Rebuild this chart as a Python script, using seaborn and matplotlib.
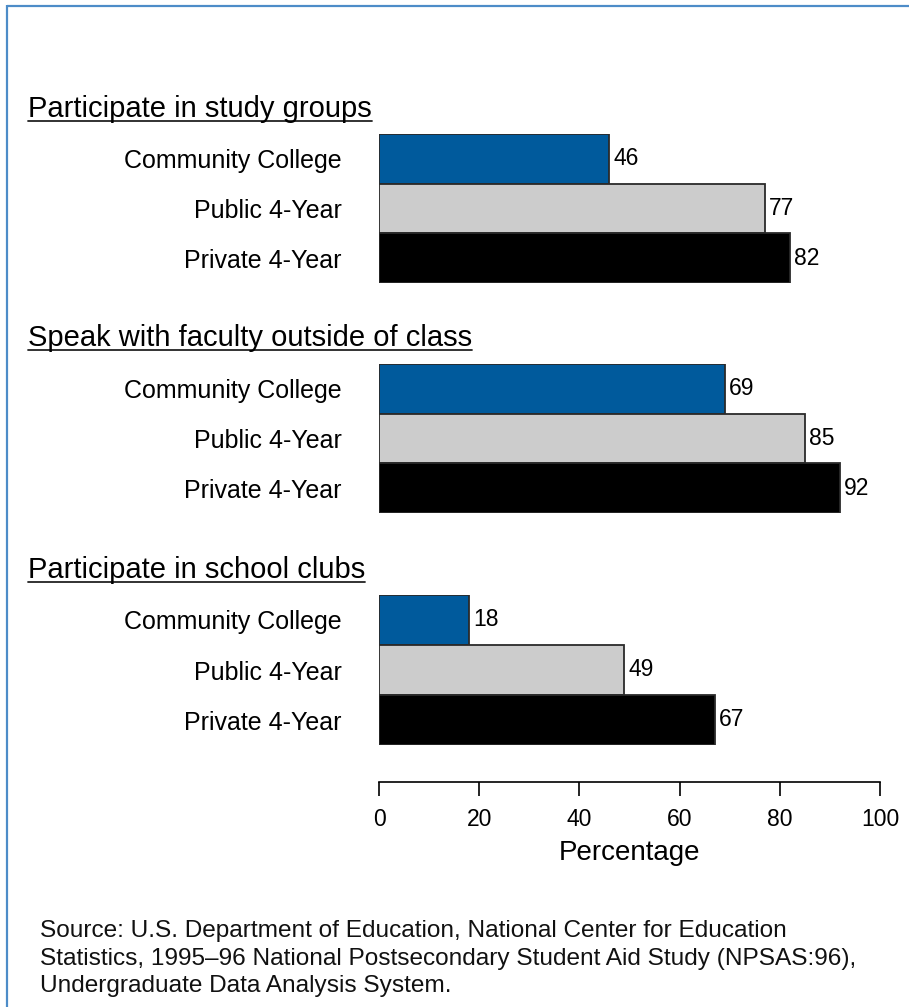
import matplotlib
matplotlib.use("Agg")
import matplotlib.pyplot as plt
import seaborn as sns
import pandas as pd
from matplotlib.lines import Line2D

sns.set_theme(style="white")
plt.rcParams['font.family'] = ['Liberation Sans', 'DejaVu Sans']

# Data
measures = ["Participate in study groups",
            "Speak with faculty outside of class",
            "Participate in school clubs"]
institutions = ["Community College", "Public 4-Year", "Private 4-Year"]
study_groups = [46, 77, 82]
faculty_contact = [69, 85, 92]
school_clubs = [18, 49, 67]
x_ticks = [0, 20, 40, 60, 80, 100]
x_label = "Percentage"
source_note = ("Source: U.S. Department of Education, National Center for Education\n"
               "Statistics, 1995\u201396 National Postsecondary Student Aid Study (NPSAS:96),\n"
               "Undergraduate Data Analysis System.")

colors = ["#005a9c", "#cccccc", "#000000"]

W, H = 909, 1007
fig = plt.figure(figsize=(W / 100, H / 100), dpi=100)
PT = 72 / 100  # points per pixel


def px_rect(x0, y0, x1, y1):
    return [x0 / W, 1 - y1 / H, (x1 - x0) / W, (y1 - y0) / H]


# (values, top px, bottom px, title baseline px)
panels = [
    (study_groups, 134, 283, 117),
    (faculty_contact, 364, 513, 346),
    (school_clubs, 595, 745, 578),
]

renderer = fig.canvas.get_renderer()
axes = []
for i, (vals, top, bot, ty) in enumerate(panels):
    ax = fig.add_axes(px_rect(379, top, 880, bot))
    df = pd.DataFrame({"institution": institutions, "pct": vals})
    sns.barplot(data=df, y="institution", x="pct", hue="institution",
                palette=colors, saturation=1, width=1.0, edgecolor="#2a2a2a",
                linewidth=1.3, orient="h", legend=False, ax=ax)
    ax.set_xlim(0, 100)
    ax.set_ylim(2.5, -0.5)
    ax.set_ylabel("")
    ax.set_xlabel("")
    for s in ax.spines.values():
        s.set_visible(False)
    ax.tick_params(axis="y", length=0, pad=37 * PT, labelsize=18, labelcolor="black")
    for cont in ax.containers:
        ax.bar_label(cont, padding=3, fontsize=16.5, color="black")
    ax.set_facecolor("none")

    # panel heading, underlined
    t = fig.text(28 / W, 1 - ty / H, measures[i], fontsize=21, color="black",
                 va="baseline", ha="left")
    bb = t.get_window_extent(renderer)
    uy = (H - ty - 4) / H
    fig.add_artist(Line2D([bb.x0 / W, bb.x1 / W], [uy, uy],
                          transform=fig.transFigure, color="#222222", lw=1.3))
    axes.append(ax)

for ax in axes[:-1]:
    ax.set_xticks([])

# shared percentage axis below the last panel
ax = axes[-1]
ax.spines["bottom"].set_visible(True)
ax.spines["bottom"].set_position(("outward", 37 * PT))
ax.spines["bottom"].set_bounds(0, 100)
ax.spines["bottom"].set_color("black")
ax.spines["bottom"].set_linewidth(1.2)
ax.set_xticks(x_ticks)
ax.set_xticklabels([str(v) for v in x_ticks])
ax.tick_params(axis="x", direction="out", length=14 * PT, width=1.2, color="black",
               bottom=True, labelsize=16.5, pad=12 * PT, labelcolor="black")
ax.set_xlabel(x_label, fontsize=20, color="black", labelpad=9 * PT)

# source note
fig.text(40 / W, 1 - 920 / H, source_note, fontsize=17.6, color="#111111",
         va="top", ha="left", linespacing=1.33)

# blue frame
frame = "#4d8cc8"
fig.add_artist(Line2D([7.5 / W, 7.5 / W], [1 - 5 / H, 0], transform=fig.transFigure,
                      color=frame, lw=2.2 * PT, solid_capstyle="butt"))
fig.add_artist(Line2D([7 / W, 1], [1 - 5.5 / H, 1 - 5.5 / H], transform=fig.transFigure,
                      color=frame, lw=2.2 * PT, solid_capstyle="butt"))

fig.savefig("out.png", dpi=100, facecolor="white")
